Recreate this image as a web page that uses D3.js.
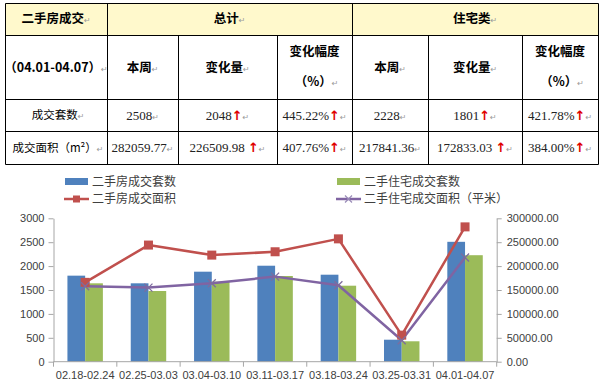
<!DOCTYPE html>
<html>
<head>
<meta charset="utf-8">
<script src="https://cdn.jsdelivr.net/npm/d3@7"></script>
<style>
  body { margin: 0; background: #fff; }
  svg { display: block; }
</style>
</head>
<body>
<svg id="chart"></svg>
<script>
///////////////////////////////////////////
//////////////// Data /////////////////////
///////////////////////////////////////////
const groupHeads = ["二手房成交", "总计", "住宅类"]
const subHeads = ["（04.01-04.07）", "本周", "变化量", "变化幅度|（%）", "本周", "变化量", "变化幅度|（%）"]
const rowLabels = ["成交套数", "成交面积（m²）"]
const totalThisWeek = ["2508", "282059.77"]
const totalChange = ["2048", "226509.98   "]
const totalPct = ["445.22%", "407.76%"]
const resThisWeek = ["2228", "217841.36"]
const resChange = ["1801", "172833.03   "]
const resPct = ["421.78%", "384.00%"]

const weeks = ["02.18-02.24", "02.25-03.03", "03.04-03.10", "03.11-03.17", "03.18-03.24", "03.25-03.31", "04.01-04.07"]
const allUnits = [1800, 1640, 1883, 2008, 1820, 460, 2508]
const resUnits = [1640, 1479, 1674, 1793, 1590, 427, 2228]
const allArea = [166000, 244000, 223000, 230000, 257000, 55549.79, 282059.77]
const resArea = [158000, 155000, 164000, 178000, 160000, 45008.33, 217841.36]

const seriesNames = ["二手房成交套数", "二手住宅成交套数", "二手房成交面积", "二手住宅成交面积（平米）"]

///////////////////////////////////////////
//////////////// Constants ////////////////
///////////////////////////////////////////
const width = 601
const height = 384

const blueCol = "#4F81BD"
const greenCol = "#9BBB59"
const redCol = "#C0504D"
const purpleCol = "#8064A2"
const axisCol = "#A6A6A6"
const tickTextCol = "#404040"
const headFill = "#FFF9CC"

const cjk = "'Noto Sans CJK SC', 'Noto Sans', sans-serif"
const serif = "'Liberation Serif', 'DejaVu Serif', serif"
const sans = "'Liberation Sans', Arial, sans-serif"

const svg = d3.select("#chart")
  .attr("width", width)
  .attr("height", height)

///////////////////////////////////////////
//////////////// Table ////////////////////
///////////////////////////////////////////
const colEdges = [5, 107, 178, 277, 352, 428, 522, 598]
const rowEdges = [3, 35, 99, 131, 164]

const tableG = svg.append("g")

// yellow header row
tableG.append("rect")
  .attr("x", colEdges[0]).attr("y", rowEdges[0])
  .attr("width", colEdges[7] - colEdges[0])
  .attr("height", rowEdges[1] - rowEdges[0])
  .attr("fill", headFill)

// grid lines
const hLines = rowEdges.map(y => ({x1: colEdges[0], x2: colEdges[7], y1: y, y2: y}))
const vLines = colEdges.map((x, i) => {
  // merged cells in first row: only outer / group edges go through row 1
  const full = i === 0 || i === 1 || i === 4 || i === 7
  return {x1: x, x2: x, y1: full ? rowEdges[0] : rowEdges[1], y2: rowEdges[4]}
})
tableG.selectAll(".grid")
  .data(hLines.concat(vLines))
  .join("line")
    .attr("x1", d => d.x1 + 0.5).attr("x2", d => d.x2 + 0.5)
    .attr("y1", d => d.y1 + 0.5).attr("y2", d => d.y2 + 0.5)
    .attr("stroke", "#000")
    .attr("stroke-width", 1)

// helper to write a cell with optional red arrow and paragraph mark
function cellText(x, y, txt, opts) {
  const t = tableG.append("text")
    .attr("x", x).attr("y", y)
    .attr("dy", "0.35em")
    .attr("text-anchor", "middle")
    .attr("fill", opts.color || "#000")
    .style("font-family", opts.font)
    .style("font-size", opts.size + "px")
    .style("font-weight", opts.bold ? "bold" : "normal")
  t.append("tspan").text(txt)
  if (opts.arrow) {
    t.append("tspan")
      .style("font-family", "'DejaVu Sans', sans-serif")
      .style("font-weight", "bold")
      .style("font-size", "13px")
      .attr("fill", "#E00000")
      .text("↑")
  }
  t.append("tspan")
    .style("font-family", "'DejaVu Sans', sans-serif")
    .style("font-weight", "normal")
    .style("font-size", "8px")
    .attr("fill", "#9a9a9a")
    .text("↵")
}

const mid = (a, b) => (a + b) / 2

// header row
cellText(mid(colEdges[0], colEdges[1]), mid(rowEdges[0], rowEdges[1]), groupHeads[0], {font: cjk, size: 12.5, bold: true})
cellText(mid(colEdges[1], colEdges[4]), mid(rowEdges[0], rowEdges[1]), groupHeads[1], {font: cjk, size: 12.5, bold: true})
cellText(mid(colEdges[4], colEdges[7]), mid(rowEdges[0], rowEdges[1]), groupHeads[2], {font: cjk, size: 12.5, bold: true})

// sub header row
subHeads.forEach((h, i) => {
  const cx = mid(colEdges[i], colEdges[i + 1])
  const parts = h.split("|")
  if (parts.length === 1) {
    cellText(cx, 68, parts[0], {font: cjk, size: 12.5, bold: true})
  } else {
    tableG.append("text")
      .attr("x", cx).attr("y", 52).attr("dy", "0.35em")
      .attr("text-anchor", "middle")
      .style("font-family", cjk).style("font-size", "12.5px").style("font-weight", "bold")
      .text(parts[0])
    cellText(cx + 2, 82, parts[1], {font: cjk, size: 12.5, bold: true})
  }
})

// body rows
const bodyCols = [totalThisWeek, totalChange, totalPct, resThisWeek, resChange, resPct]
const arrowCols = [false, true, true, false, true, true]
rowLabels.forEach((lab, r) => {
  const cy = mid(rowEdges[r + 2], rowEdges[r + 3])
  cellText(mid(colEdges[0], colEdges[1]) + 2, cy, lab, {font: cjk, size: 11.5, color: "#000"})
  bodyCols.forEach((col, c) => {
    cellText(mid(colEdges[c + 1], colEdges[c + 2]), cy, col[r], {font: serif, size: 13, color: "#222", arrow: arrowCols[c]})
  })
})

///////////////////////////////////////////
//////////////// Chart ////////////////////
///////////////////////////////////////////
const plotLeft = 53.5
const plotRight = 496.7
const plotTop = 218.3
const plotBottom = 361.7

const x0 = d3.scaleBand()
  .domain(weeks)
  .range([plotLeft, plotRight])
  .paddingInner(0.44)
  .paddingOuter(0.22)

const x1 = d3.scaleBand()
  .domain(["all", "res"])
  .range([0, x0.bandwidth()])

const yLeft = d3.scaleLinear().domain([0, 3000]).range([plotBottom, plotTop])
const yRight = d3.scaleLinear().domain([0, 300000]).range([plotBottom, plotTop])

const chartG = svg.append("g")

// bars
const barData = weeks.map((w, i) => [
  {week: w, key: "all", value: allUnits[i], color: blueCol},
  {week: w, key: "res", value: resUnits[i], color: greenCol}
]).flat()

chartG.selectAll(".bar")
  .data(barData)
  .join("rect")
    .attr("class", "bar")
    .attr("x", d => x0(d.week) + x1(d.key))
    .attr("width", x1.bandwidth())
    .attr("y", d => yLeft(d.value))
    .attr("height", d => yLeft(0) - yLeft(d.value))
    .attr("fill", d => d.color)

// axes
const leftAxis = chartG.append("g")
  .attr("transform", `translate(${plotLeft},0)`)
  .call(d3.axisLeft(yLeft).tickValues(d3.range(0, 3001, 500)).tickFormat(d3.format("d")).tickSize(5).tickSizeOuter(0).tickPadding(4))
const rightAxis = chartG.append("g")
  .attr("transform", `translate(${plotRight},0)`)
  .call(d3.axisRight(yRight).tickValues(d3.range(0, 300001, 50000)).tickFormat(d3.format(".2f")).tickSize(5).tickSizeOuter(0).tickPadding(5))
const bottomAxis = chartG.append("g")
  .attr("transform", `translate(0,${plotBottom})`)
  .call(d3.axisBottom(x0).tickSize(0).tickPadding(10))

;[leftAxis, rightAxis, bottomAxis].forEach(a => {
  a.select(".domain").attr("stroke", axisCol)
  a.selectAll(".tick line").attr("stroke", axisCol)
  a.selectAll("text")
    .attr("fill", tickTextCol)
    .style("font-family", sans)
    .style("font-size", "11px")
})
bottomAxis.select(".domain").attr("d", `M${plotLeft},0H${plotRight}`)

// category boundary ticks on the x axis
const boundaries = weeks.map(w => x0(w) - x0.step() * x0.paddingInner() / 2).concat([plotRight])
chartG.selectAll(".xtick")
  .data(boundaries)
  .join("line")
    .attr("x1", d => d).attr("x2", d => d)
    .attr("y1", plotBottom).attr("y2", plotBottom + 5)
    .attr("stroke", axisCol)

// lines
const cx = w => x0(w) + x0.bandwidth() / 2
const lineGen = d3.line()
  .x(d => cx(d.week))
  .y(d => yRight(d.value))

const redData = weeks.map((w, i) => ({week: w, value: allArea[i]}))
const purpleData = weeks.map((w, i) => ({week: w, value: resArea[i]}))

chartG.append("path")
  .datum(purpleData)
  .attr("d", lineGen)
  .attr("fill", "none")
  .attr("stroke", purpleCol)
  .attr("stroke-width", 2.5)
  .attr("stroke-linejoin", "round")

chartG.append("path")
  .datum(redData)
  .attr("d", lineGen)
  .attr("fill", "none")
  .attr("stroke", redCol)
  .attr("stroke-width", 2.5)
  .attr("stroke-linejoin", "round")

const sq = 9
chartG.selectAll(".redMark")
  .data(redData)
  .join("rect")
    .attr("x", d => cx(d.week) - sq / 2)
    .attr("y", d => yRight(d.value) - sq / 2)
    .attr("width", sq).attr("height", sq)
    .attr("fill", redCol)

const xs = 4
chartG.selectAll(".purpleMark")
  .data(purpleData)
  .join("path")
    .attr("d", d => {
      const px = cx(d.week), py = yRight(d.value)
      return `M${px - xs},${py - xs}L${px + xs},${py + xs}M${px - xs},${py + xs}L${px + xs},${py - xs}`
    })
    .attr("stroke", "#7E6C9E")
    .attr("stroke-width", 1.3)

///////////////////////////////////////////
//////////////// Legend ///////////////////
///////////////////////////////////////////
const legendItems = [
  {name: seriesNames[0], type: "bar", color: blueCol, x: 65, y: 181.5},
  {name: seriesNames[2], type: "square", color: redCol, x: 65, y: 199},
  {name: seriesNames[1], type: "bar", color: greenCol, x: 337, y: 181.5},
  {name: seriesNames[3], type: "cross", color: purpleCol, x: 337, y: 199}
]

const legend = svg.append("g")
  .selectAll("g")
  .data(legendItems)
  .join("g")
    .attr("transform", d => `translate(${d.x},${d.y})`)

legend.filter(d => d.type === "bar")
  .append("rect")
    .attr("x", 0).attr("y", -3.5)
    .attr("width", 23).attr("height", 7)
    .attr("fill", d => d.color)

legend.filter(d => d.type !== "bar")
  .append("line")
    .attr("x1", -1).attr("x2", 24)
    .attr("y1", 0).attr("y2", 0)
    .attr("stroke", d => d.color)
    .attr("stroke-width", 2.5)

legend.filter(d => d.type === "square")
  .append("rect")
    .attr("x", 8).attr("y", -3.5)
    .attr("width", 7).attr("height", 7)
    .attr("fill", d => d.color)

legend.filter(d => d.type === "cross")
  .append("path")
    .attr("d", "M8,-3.5L15,3.5M8,3.5L15,-3.5")
    .attr("stroke", "#9A8CB8")
    .attr("stroke-width", 1.2)

legend.append("text")
  .attr("x", 27)
  .attr("dy", "0.35em")
  .attr("fill", "#404040")
  .style("font-family", cjk)
  .style("font-size", "12px")
  .text(d => d.name)
</script>
</body>
</html>
